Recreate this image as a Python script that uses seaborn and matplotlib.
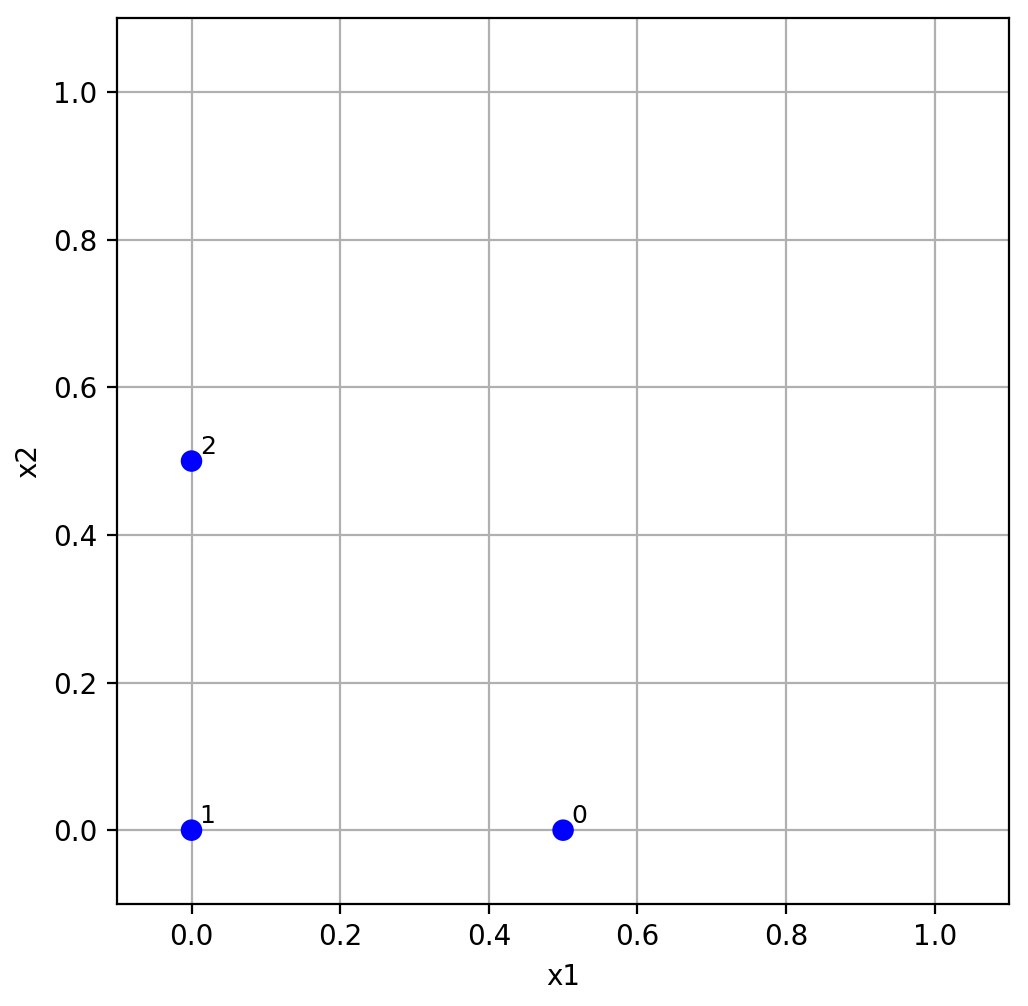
import matplotlib
matplotlib.use("Agg")
import matplotlib.pyplot as plt
import seaborn as sns
import pandas as pd

x1 = [0.5, 0.0, 0.0]
x2 = [0.0, 0.0, 0.5]
labels = ["0", "1", "2"]

df = pd.DataFrame({"x1": x1, "x2": x2, "label": labels})

plt.rcParams["font.family"] = ["DejaVu Sans"]
fig, ax = plt.subplots(figsize=(1028/200, 1006/200), dpi=200)
fig.subplots_adjust(left=0.114, right=0.9815, top=0.982, bottom=0.1014)

sns.scatterplot(data=df, x="x1", y="x2", color="blue", s=60, edgecolor="none", ax=ax, zorder=3)
for xv, yv, lab in zip(df["x1"], df["x2"], df["label"]):
    ax.text(xv + 0.011, yv + 0.01, lab, fontsize=9, zorder=4)

ax.set_xlim(-0.1, 1.1)
ax.set_ylim(-0.1, 1.1)
ax.set_xticks([0.0, 0.2, 0.4, 0.6, 0.8, 1.0])
ax.set_yticks([0.0, 0.2, 0.4, 0.6, 0.8, 1.0])
ax.grid(True, color="#b0b0b0", linewidth=0.8)
ax.set_axisbelow(True)
ax.set_xlabel("x1")
ax.set_ylabel("x2")

fig.savefig("out.png", dpi=200)
